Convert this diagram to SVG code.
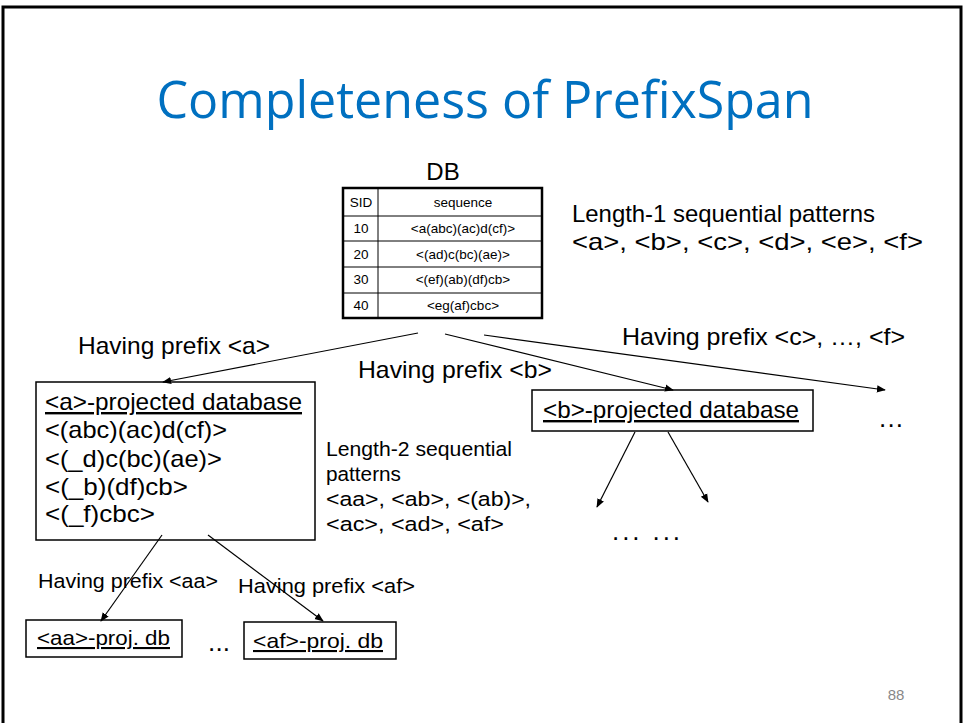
<svg xmlns="http://www.w3.org/2000/svg" width="963" height="723" viewBox="0 0 963 723">
<style>
.t{font-family:"Liberation Sans",Arial,sans-serif;fill:#000}
.big{font-size:24px}
.mid{font-size:20.5px}
.sm{font-size:13.5px}
.u{text-decoration:underline}
.box{fill:#fff;stroke:#000;stroke-width:1.5}
.conn line{stroke:#000;stroke-width:1.2;marker-end:url(#ah)}
</style>
<defs>
<marker id="ah" viewBox="0 0 10 10" refX="9" refY="5" markerWidth="9" markerHeight="9" markerUnits="userSpaceOnUse" orient="auto">
<path d="M0,1 L10,5 L0,9 Z" fill="#000"/>
</marker>
</defs>
<rect width="963" height="723" fill="#fff"/>
<path d="M3,723 V7 H961 V723" fill="none" stroke="#000" stroke-width="3"/>
<text x="485" y="118" text-anchor="middle" font-family="'Open Sans','Liberation Sans',sans-serif" font-size="52" fill="#0070C0" textLength="657" lengthAdjust="spacingAndGlyphs">Completeness of PrefixSpan</text>

<g id="db">
<text class="t" x="443" y="180" text-anchor="middle" font-size="24">DB</text>
<rect x="343" y="188" width="199" height="130" fill="#fff" stroke="#000" stroke-width="2.5"/>
<g stroke="#000" stroke-width="1">
<line x1="343" y1="216" x2="542" y2="216"/>
<line x1="343" y1="241" x2="542" y2="241"/>
<line x1="343" y1="267" x2="542" y2="267"/>
<line x1="343" y1="293" x2="542" y2="293"/>
<line x1="378" y1="188" x2="378" y2="318"/>
</g>
<g class="t sm" text-anchor="middle">
<text x="361" y="207">SID</text><text x="463" y="207">sequence</text>
<text x="361" y="233">10</text><text x="463" y="233">&lt;a(abc)(ac)d(cf)&gt;</text>
<text x="361" y="259">20</text><text x="463" y="259">&lt;(ad)c(bc)(ae)&gt;</text>
<text x="361" y="284">30</text><text x="463" y="284">&lt;(ef)(ab)(df)cb&gt;</text>
<text x="361" y="310">40</text><text x="463" y="310">&lt;eg(af)cbc&gt;</text>
</g>
</g>

<g id="len1" class="t big">
<text x="572" y="222" textLength="303" lengthAdjust="spacingAndGlyphs">Length-1 sequential patterns</text>
<text x="572" y="250" textLength="351" lengthAdjust="spacingAndGlyphs">&lt;a&gt;, &lt;b&gt;, &lt;c&gt;, &lt;d&gt;, &lt;e&gt;, &lt;f&gt;</text>
</g>

<g id="labels" class="t big">
<text x="78" y="354" textLength="192" lengthAdjust="spacingAndGlyphs">Having prefix &lt;a&gt;</text>
<text x="358" y="378" textLength="194" lengthAdjust="spacingAndGlyphs">Having prefix &lt;b&gt;</text>
<text x="622" y="345" textLength="283" lengthAdjust="spacingAndGlyphs">Having prefix &lt;c&gt;, …, &lt;f&gt;</text>
</g>

<g id="a-proj">
<rect class="box" x="36" y="382" width="279" height="158"/>
<g class="t big">
<text class="u" x="45" y="410" textLength="257" lengthAdjust="spacingAndGlyphs">&lt;a&gt;-projected database</text>
<text x="45" y="438" textLength="182" lengthAdjust="spacingAndGlyphs">&lt;(abc)(ac)d(cf)&gt;</text>
<text x="45" y="467" textLength="177" lengthAdjust="spacingAndGlyphs">&lt;(_d)c(bc)(ae)&gt;</text>
<text x="45" y="495" textLength="143" lengthAdjust="spacingAndGlyphs">&lt;(_b)(df)cb&gt;</text>
<text x="45" y="522" textLength="110" lengthAdjust="spacingAndGlyphs">&lt;(_f)cbc&gt;</text>
</g>
</g>

<g id="len2" class="t mid">
<text x="326" y="456" textLength="186" lengthAdjust="spacingAndGlyphs">Length-2 sequential</text>
<text x="326" y="481" textLength="75" lengthAdjust="spacingAndGlyphs">patterns</text>
<text x="326" y="506" textLength="205" lengthAdjust="spacingAndGlyphs">&lt;aa&gt;, &lt;ab&gt;, &lt;(ab)&gt;,</text>
<text x="326" y="531" textLength="178" lengthAdjust="spacingAndGlyphs">&lt;ac&gt;, &lt;ad&gt;, &lt;af&gt;</text>
</g>

<g id="b-proj">
<rect class="box" x="532" y="390" width="281" height="41"/>
<text class="t big u" x="543" y="418" textLength="256" lengthAdjust="spacingAndGlyphs">&lt;b&gt;-projected database</text>
</g>

<g id="more-right"><text class="t" font-size="26" x="879" y="427" textLength="24" lengthAdjust="spacing">...</text></g>
<g id="more-b"><text class="t" font-size="26" x="612" y="540" textLength="68" lengthAdjust="spacing">... ...</text></g>

<g id="prefix-aa-labels" class="t mid">
<text x="38" y="588" textLength="180" lengthAdjust="spacingAndGlyphs">Having prefix &lt;aa&gt;</text>
<text x="238" y="593" textLength="177" lengthAdjust="spacingAndGlyphs">Having prefix &lt;af&gt;</text>
</g>

<g id="aa-proj">
<rect class="box" x="26" y="620" width="156" height="37"/>
<text class="t u" x="37" y="645" font-size="21" textLength="133" lengthAdjust="spacingAndGlyphs">&lt;aa&gt;-proj. db</text>
</g>
<g id="more-a"><text class="t" font-size="26" x="208" y="651" textLength="22" lengthAdjust="spacing">...</text></g>
<g id="af-proj">
<rect class="box" x="244" y="622" width="152" height="37"/>
<text class="t u" x="253" y="648" font-size="21" textLength="130" lengthAdjust="spacingAndGlyphs">&lt;af&gt;-proj. db</text>
</g>

<g id="connectors" class="conn">
<line x1="418" y1="333" x2="163" y2="382"/>
<line x1="445" y1="334" x2="673" y2="390"/>
<line x1="484" y1="335" x2="885" y2="390"/>
<line x1="635" y1="432" x2="597" y2="507"/>
<line x1="668" y1="432" x2="708" y2="502"/>
<line x1="162" y1="535" x2="101" y2="621"/>
<line x1="208" y1="535" x2="323" y2="621"/>
</g>

<text x="896" y="700" text-anchor="middle" font-family="'Liberation Sans',Arial,sans-serif" font-size="15" fill="#888">88</text>
</svg>
